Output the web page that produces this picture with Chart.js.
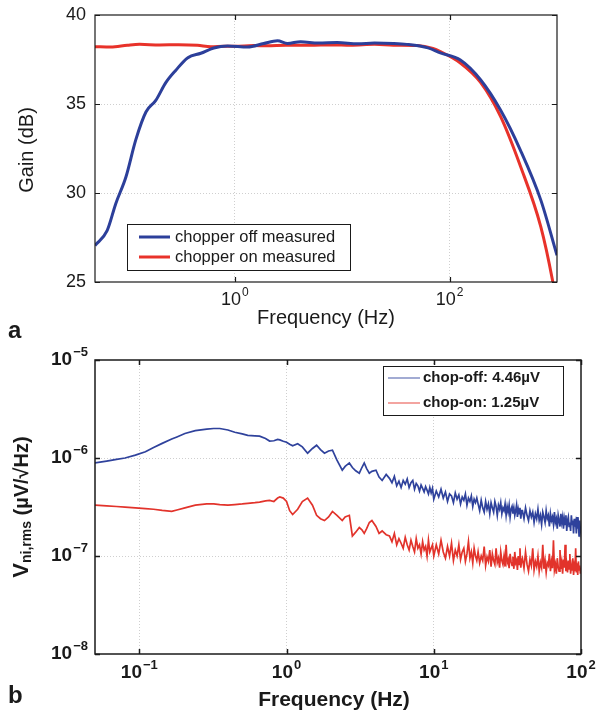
<!DOCTYPE html>
<html>
<head>
<meta charset="utf-8">
<script src="https://cdn.jsdelivr.net/npm/chart.js@4.4.1/dist/chart.umd.min.js"></script>
<style>
  body { margin: 0; background: #fff; width: 601px; height: 717px; position: relative; overflow: hidden; }
  canvas { position: absolute; left: 0; }
  #gainChart { top: 0; }
  #noiseChart { top: 340px; }
  .panel { position: absolute; left: 8px; font: bold 24px 'Liberation Sans', Arial, sans-serif; line-height: 24px; color: #1a1a1a; }
</style>
</head>
<body>
<canvas id="gainChart" width="601" height="340"></canvas>
<canvas id="noiseChart" width="601" height="377"></canvas>
<div class="panel" style="top:318px">a</div>
<div class="panel" style="top:683px">b</div>
<script>
// ---- (a) gain vs frequency ----
const offFreq = [0.05, 0.065, 0.078, 0.097, 0.12, 0.149, 0.184, 0.228, 0.283, 0.366,
                 0.483, 0.638, 0.86, 1.32, 1.86, 2.5, 3.1, 4.1, 6, 9,
                 14, 20, 30, 40, 63, 82, 126, 195, 298, 457,
                 707, 1000];
const offGain = [27.05, 27.9, 29.4, 30.9, 33.0, 34.55, 35.2, 36.2, 36.9, 37.6,
                 37.85, 38.15, 38.26, 38.2, 38.4, 38.55, 38.4, 38.5, 38.42, 38.45,
                 38.38, 38.42, 38.4, 38.35, 38.15, 37.87, 37.47, 36.35, 34.66, 32.4,
                 29.6, 26.5];
const onFreq = [0.05, 0.07, 0.1, 0.13, 0.2, 0.3, 0.45, 0.6, 0.8, 1,
                1.5, 2, 3, 5, 8, 12, 20, 30, 50, 70,
                82, 126, 195, 298, 457, 707, 908, 1000];
const onGain = [38.22, 38.2, 38.3, 38.35, 38.32, 38.33, 38.3, 38.22, 38.25, 38.25,
                38.28, 38.27, 38.3, 38.3, 38.32, 38.3, 38.35, 38.3, 38.28, 38.12,
                37.95, 37.3, 36.2, 34.3, 31.5, 28.1, 25.1, 23.6];
const gainLabels = ['chopper off measured', 'chopper on measured'];
const gainXTicks = [1, 100];
const gainXExps = ['0', '2'];
const gainYTicks = [25, 30, 35, 40];

// ---- (b) input referred noise ----
const noiseFreq = [0.05, 0.06, 0.07, 0.08, 0.094, 0.11, 0.125, 0.143, 0.166, 0.18,
  0.204, 0.24, 0.287, 0.32, 0.352, 0.40, 0.445, 0.5, 0.545, 0.61,
  0.656, 0.72, 0.767, 0.82, 0.87, 0.9, 0.95, 1.0, 1.05, 1.1,
  1.19, 1.28, 1.39, 1.5, 1.6, 1.7, 1.81, 1.93, 2.05, 2.2,
  2.39, 2.5, 2.67, 2.8, 2.95, 3.12, 3.25, 3.37, 3.5, 3.65,
  3.8, 4.05, 4.25, 4.46, 4.75,
  5.0, 5.2, 5.4, 5.6, 5.8, 6.0, 6.2, 6.4, 6.6, 6.8, 7.0, 7.2, 7.4, 7.6, 7.8, 8.0, 8.2, 8.4, 8.6, 8.8, 9.0, 9.2, 9.4, 9.6, 9.8,
  10, 10.4, 10.8, 11.2, 11.6, 12, 12.4, 12.8, 13.2, 13.6, 14, 14.4, 14.8, 15.2, 15.6, 16, 16.4, 16.8, 17.2, 17.6, 18, 18.4, 18.8, 19.2, 19.6,
  20, 20.5, 21, 21.5, 22, 22.5, 23, 23.5, 24, 24.5, 25, 25.5, 26, 26.5, 27, 27.5, 28, 28.5, 29, 29.5,
  30, 30.5, 31, 31.5, 32, 32.5, 33, 33.5, 34, 34.5, 35, 35.5, 36, 36.5, 37, 37.5, 38, 38.5, 39, 39.5,
  40, 41, 42, 43, 44, 45, 46, 47, 48, 49, 50, 51, 52, 53, 54, 55, 56, 57, 58, 59,
  60, 61, 62, 63, 64, 65, 66, 67, 68, 69, 70, 71, 72, 73, 74, 75, 76, 77, 78, 79,
  80, 81, 82, 83, 84, 85, 86, 87, 88, 89, 90, 91, 92, 93, 94, 95, 96, 97, 98, 99, 100];
const chopOff = [8.9e-7, 9.3e-7, 9.7e-7, 10.0e-7, 10.7e-7, 11.6e-7, 12.8e-7, 14.1e-7, 15.6e-7, 16.4e-7,
  17.8e-7, 19.0e-7, 19.7e-7, 20.0e-7, 20.0e-7, 19.3e-7, 18.3e-7, 17.6e-7, 17.0e-7, 16.8e-7,
  16.7e-7, 15.8e-7, 14.9e-7, 15.0e-7, 15.5e-7, 15.3e-7, 14.8e-7, 14.5e-7, 13.8e-7, 13.3e-7,
  14.0e-7, 13.0e-7, 11.2e-7, 12.5e-7, 13.5e-7, 12.2e-7, 11.2e-7, 11.8e-7, 12.0e-7, 9.5e-7,
  7.5e-7, 8.2e-7, 8.9e-7, 8.0e-7, 7.4e-7, 7.0e-7, 8.0e-7, 8.9e-7, 7.8e-7, 7.0e-7,
  7.3e-7, 7.5e-7, 6.4e-7, 5.9e-7, 6.8e-7,
  6.2e-7, 5.6e-7, 6.5e-7, 5.2e-7, 5.8e-7, 5.0e-7, 5.9e-7, 5.4e-7, 6.1e-7, 5.0e-7, 5.6e-7, 5.9e-7, 4.8e-7, 5.5e-7, 5.2e-7, 4.6e-7, 5.3e-7, 4.9e-7, 4.5e-7, 5.1e-7, 4.7e-7, 4.3e-7, 5.0e-7, 4.4e-7, 4.9e-7,
  3.8e-7, 4.6e-7, 4.0e-7, 4.8e-7, 3.9e-7, 4.5e-7, 3.6e-7, 4.3e-7, 4.1e-7, 3.5e-7, 4.4e-7, 3.8e-7, 4.2e-7, 3.4e-7, 4.0e-7, 3.7e-7, 4.3e-7, 3.3e-7, 3.9e-7, 3.6e-7, 4.1e-7, 3.2e-7, 3.8e-7, 3.5e-7, 3.9e-7,
  3.4e-7, 2.9e-7, 3.7e-7, 3.1e-7, 2.8e-7, 3.6e-7, 3.0e-7, 3.4e-7, 2.7e-7, 3.5e-7, 3.1e-7, 2.8e-7, 3.6e-7, 3.2e-7, 2.6e-7, 3.3e-7, 3.0e-7, 3.5e-7, 2.7e-7, 3.1e-7,
  2.9e-7, 3.4e-7, 2.6e-7, 3.2e-7, 2.8e-7, 3.3e-7, 2.5e-7, 3.0e-7, 3.2e-7, 2.7e-7, 3.1e-7, 2.6e-7, 2.9e-7, 3.3e-7, 2.5e-7, 3.0e-7, 2.7e-7, 3.1e-7, 2.4e-7, 2.9e-7,
  2.9e-7, 2.4e-7, 3.1e-7, 2.6e-7, 2.3e-7, 2.9e-7, 2.5e-7, 2.8e-7, 2.2e-7, 2.7e-7, 2.4e-7, 3.0e-7, 2.3e-7, 2.6e-7, 2.1e-7, 2.8e-7, 2.5e-7, 2.2e-7, 2.9e-7, 2.4e-7,
  2.6e-7, 2.0e-7, 2.7e-7, 2.3e-7, 2.5e-7, 2.1e-7, 2.8e-7, 2.2e-7, 2.4e-7, 1.9e-7, 2.6e-7, 2.3e-7, 2.0e-7, 2.7e-7, 2.2e-7, 2.5e-7, 1.9e-7, 2.4e-7, 2.1e-7, 2.6e-7,
  1.8e-7, 2.3e-7, 2.5e-7, 2.0e-7, 2.2e-7, 1.8e-7, 2.6e-7, 2.1e-7, 2.3e-7, 1.7e-7, 2.4e-7, 2.0e-7, 2.2e-7, 1.7e-7, 2.5e-7, 1.9e-7, 2.1e-7, 1.6e-7, 2.3e-7, 1.8e-7, 2.0e-7];
const chopOn = [3.3e-7, 3.25e-7, 3.2e-7, 3.15e-7, 3.1e-7, 3.05e-7, 3.0e-7, 2.92e-7, 2.85e-7, 2.95e-7,
  3.1e-7, 3.3e-7, 3.4e-7, 3.4e-7, 3.35e-7, 3.3e-7, 3.35e-7, 3.4e-7, 3.45e-7, 3.5e-7,
  3.55e-7, 3.65e-7, 3.7e-7, 3.6e-7, 3.9e-7, 4.0e-7, 3.9e-7, 3.6e-7, 2.9e-7, 2.65e-7,
  3.0e-7, 3.6e-7, 3.9e-7, 3.3e-7, 2.6e-7, 2.4e-7, 2.3e-7, 2.5e-7, 2.85e-7, 2.6e-7,
  2.3e-7, 2.5e-7, 2.6e-7, 1.6e-7, 1.75e-7, 1.95e-7, 1.85e-7, 1.7e-7, 1.9e-7, 2.2e-7,
  2.3e-7, 2.0e-7, 1.7e-7, 1.8e-7, 1.65e-7,
  1.6e-7, 1.4e-7, 1.7e-7, 1.3e-7, 1.5e-7, 1.35e-7, 1.2e-7, 1.55e-7, 1.3e-7, 1.15e-7, 1.45e-7, 1.25e-7, 1.1e-7, 1.5e-7, 1.2e-7, 1.3e-7, 1.05e-7, 1.4e-7, 1.15e-7, 1.25e-7, 1.0e-7, 1.45e-7, 1.1e-7, 1.2e-7, 1.3e-7,
  1.0e-7, 1.3e-7, 1.05e-7, 1.45e-7, 1.1e-7, 0.95e-7, 1.25e-7, 1.0e-7, 1.35e-7, 0.9e-7, 1.15e-7, 1.0e-7, 1.3e-7, 0.92e-7, 1.1e-7, 1.2e-7, 0.88e-7, 1.05e-7, 1.4e-7, 0.95e-7, 1.1e-7, 0.85e-7, 1.2e-7, 1.0e-7, 0.9e-7,
  1.1e-7, 0.85e-7, 1.0e-7, 0.9e-7, 1.25e-7, 0.8e-7, 0.98e-7, 0.88e-7, 1.15e-7, 0.78e-7, 1.05e-7, 0.9e-7, 0.82e-7, 1.2e-7, 0.86e-7, 0.95e-7, 0.76e-7, 1.1e-7, 0.9e-7, 0.82e-7,
  1.0e-7, 0.78e-7, 1.3e-7, 0.85e-7, 0.92e-7, 0.75e-7, 1.05e-7, 0.88e-7, 0.8e-7, 0.98e-7, 0.74e-7, 1.1e-7, 0.85e-7, 0.9e-7, 0.72e-7, 1.0e-7, 0.82e-7, 1.2e-7, 0.76e-7, 0.9e-7,
  0.95e-7, 0.75e-7, 1.1e-7, 0.82e-7, 0.7e-7, 0.92e-7, 0.8e-7, 1.2e-7, 0.72e-7, 0.88e-7, 0.78e-7, 1.0e-7, 0.7e-7, 0.86e-7, 0.76e-7, 1.3e-7, 0.74e-7, 0.9e-7, 0.68e-7, 0.85e-7,
  0.8e-7, 1.05e-7, 0.7e-7, 0.88e-7, 0.75e-7, 1.45e-7, 0.72e-7, 0.82e-7, 0.66e-7, 0.95e-7, 0.78e-7, 0.7e-7, 1.15e-7, 0.74e-7, 0.86e-7, 0.66e-7, 0.92e-7, 0.76e-7, 1.3e-7, 0.7e-7,
  0.82e-7, 0.68e-7, 0.9e-7, 0.74e-7, 1.05e-7, 0.66e-7, 0.8e-7, 0.72e-7, 0.95e-7, 0.64e-7, 0.78e-7, 0.7e-7, 1.2e-7, 0.68e-7, 0.84e-7, 0.64e-7, 0.88e-7, 0.72e-7, 0.8e-7, 0.66e-7, 0.76e-7];
const noiseLabels = ['chop-off: 4.46\u00b5V', 'chop-on: 1.25\u00b5V'];
const noiseXTicks = [0.1, 1, 10, 100];
const noiseXExps = ['\u22121', '0', '1', '2'];
const noiseYTicks = [1e-8, 1e-7, 1e-6, 1e-5];
const noiseYExps = ['\u22128', '\u22127', '\u22126', '\u22125'];

const FONT = "'Liberation Sans', Arial, Helvetica, sans-serif";
const INK = '#1a1a1a';
function font(size, bold) { return (bold ? 'bold ' : '') + size + 'px ' + FONT; }

// "10" with a raised exponent
function drawPower(ctx, x, y, exp, size, bold, align) {
  const es = Math.round(size * 0.68);
  ctx.font = font(size, bold);
  const wb = ctx.measureText('10').width;
  ctx.font = font(es, bold);
  const we = ctx.measureText(exp).width;
  const x0 = align === 'right' ? x - wb - we - 1 : x - (wb + we + 1) / 2;
  ctx.textAlign = 'left';
  ctx.textBaseline = 'middle';
  ctx.font = font(size, bold);
  ctx.fillText('10', x0, y);
  ctx.font = font(es, bold);
  ctx.fillText(exp, x0 + wb + 1, y - size * 0.42);
}

// text run turned 90 degrees, centred on cx,cy
function drawRotated(ctx, cx, cy, parts) {
  ctx.save();
  ctx.translate(cx, cy);
  ctx.rotate(-Math.PI / 2);
  let total = 0;
  parts.forEach(p => { ctx.font = font(p.size, p.bold); p.w = ctx.measureText(p.t).width; total += p.w; });
  let x = -total / 2;
  ctx.textAlign = 'left';
  ctx.textBaseline = 'middle';
  parts.forEach(p => { ctx.font = font(p.size, p.bold); ctx.fillText(p.t, x, p.dy || 0); x += p.w; });
  ctx.restore();
}

// matlab style box with inward ticks on every side
function drawFrame(chart, xTicks, yTicks, lw) {
  const { ctx, chartArea: a, scales } = chart;
  ctx.save();
  ctx.strokeStyle = INK;
  ctx.lineWidth = lw;
  ctx.strokeRect(a.left, a.top, a.right - a.left, a.bottom - a.top);
  ctx.beginPath();
  xTicks.forEach(v => {
    const px = Math.round(scales.x.getPixelForValue(v)) + 0.5;
    ctx.moveTo(px, a.bottom); ctx.lineTo(px, a.bottom - 5);
    ctx.moveTo(px, a.top); ctx.lineTo(px, a.top + 5);
  });
  yTicks.forEach(v => {
    const py = Math.round(scales.y.getPixelForValue(v)) + 0.5;
    ctx.moveTo(a.left, py); ctx.lineTo(a.left + 5, py);
    ctx.moveTo(a.right, py); ctx.lineTo(a.right - 5, py);
  });
  ctx.stroke();
  ctx.restore();
}

function drawLegend(chart, box, lineW, size, bold, alpha) {
  const ctx = chart.ctx;
  ctx.save();
  ctx.fillStyle = '#fff';
  ctx.fillRect(box.x, box.y, box.w, box.h);
  ctx.strokeStyle = INK;
  ctx.lineWidth = 1;
  ctx.strokeRect(box.x + 0.5, box.y + 0.5, box.w, box.h);
  chart.data.datasets.forEach((ds, i) => {
    const y = box.rows[i];
    ctx.globalAlpha = alpha;
    ctx.strokeStyle = ds.borderColor;
    ctx.lineWidth = lineW;
    ctx.beginPath();
    ctx.moveTo(box.lx0, y); ctx.lineTo(box.lx1, y);
    ctx.stroke();
    ctx.globalAlpha = 1;
    ctx.fillStyle = INK;
    ctx.font = font(size, bold);
    ctx.textAlign = 'left';
    ctx.textBaseline = 'middle';
    ctx.fillText(ds.label, box.tx, y);
  });
  ctx.restore();
}

const gainDecor = {
  id: 'gainDecor',
  afterDraw(chart) {
    const { ctx, scales, chartArea: a } = chart;
    drawFrame(chart, gainXTicks, gainYTicks, 1.2);
    ctx.save();
    ctx.fillStyle = INK;
    ctx.font = font(18, false);
    ctx.textAlign = 'right';
    ctx.textBaseline = 'middle';
    gainYTicks.forEach(v => ctx.fillText(String(v), 86, scales.y.getPixelForValue(v)));
    gainXTicks.forEach((v, i) => drawPower(ctx, scales.x.getPixelForValue(v), 300, gainXExps[i], 18, false, 'center'));
    ctx.font = font(20, false);
    ctx.textAlign = 'center';
    ctx.fillText('Frequency (Hz)', (a.left + a.right) / 2, 318);
    drawRotated(ctx, 27, 150, [{ t: 'Gain (dB)', size: 20, bold: false }]);
    ctx.restore();
    drawLegend(chart, { x: 127, y: 224, w: 223, h: 46, rows: [237, 257], lx0: 139, lx1: 170, tx: 175 }, 3, 16.5, false, 1);
  }
};

const noiseDecor = {
  id: 'noiseDecor',
  afterDraw(chart) {
    const { ctx, scales } = chart;
    drawFrame(chart, noiseXTicks, noiseYTicks, 1.5);
    ctx.save();
    ctx.fillStyle = INK;
    noiseYTicks.forEach((v, i) => drawPower(ctx, 88, scales.y.getPixelForValue(v), noiseYExps[i], 19, true, 'right'));
    noiseXTicks.forEach((v, i) => drawPower(ctx, scales.x.getPixelForValue(v), 333, noiseXExps[i], 19, true, 'center'));
    ctx.font = font(21, true);
    ctx.textAlign = 'center';
    ctx.textBaseline = 'middle';
    ctx.fillText('Frequency (Hz)', 334, 360);
    drawRotated(ctx, 22, 167, [
      { t: 'V', size: 22, bold: true },
      { t: 'ni,rms', size: 14, bold: true, dy: 5 },
      { t: ' (\u00b5V/\u221aHz)', size: 20, bold: true }
    ]);
    ctx.restore();
    drawLegend(chart, { x: 383, y: 26, w: 180, h: 49, rows: [38, 63], lx0: 388, lx1: 420, tx: 423 }, 1.5, 15, true, 0.6);
  }
};

function gridTicks(values) {
  return scale => { scale.ticks = values.map(v => ({ value: v })); };
}

const baseGrid = { color: '#cfcfcf', lineWidth: 1, drawTicks: false };
const baseBorder = { display: false, dash: [1, 2] };

new Chart(document.getElementById('gainChart'), {
  type: 'line',
  data: {
    datasets: [
      { label: gainLabels[0], data: offFreq.map((f, i) => ({ x: f, y: offGain[i] })), borderColor: '#2c3f9a', borderWidth: 3 },
      { label: gainLabels[1], data: onFreq.map((f, i) => ({ x: f, y: onGain[i] })), borderColor: '#e8322a', borderWidth: 3 }
    ]
  },
  options: {
    responsive: false,
    animation: false,
    events: [],
    elements: { point: { radius: 0 }, line: { cubicInterpolationMode: 'monotone' } },
    layout: { padding: { left: 95, right: 44, top: 15, bottom: 58 } },
    plugins: { legend: { display: false }, tooltip: { enabled: false } },
    scales: {
      x: {
        type: 'logarithmic', min: 0.05, max: 1000,
        ticks: { display: false }, grid: baseGrid, border: baseBorder,
        afterBuildTicks: gridTicks([1, 100]),
        afterFit: s => { s.height = 0; }
      },
      y: {
        type: 'linear', min: 25, max: 40,
        ticks: { display: false }, grid: baseGrid, border: baseBorder,
        afterBuildTicks: gridTicks([30, 35]),
        afterFit: s => { s.width = 0; }
      }
    }
  },
  plugins: [gainDecor]
});

new Chart(document.getElementById('noiseChart'), {
  type: 'line',
  data: {
    datasets: [
      { label: noiseLabels[0], data: noiseFreq.map((f, i) => ({ x: f, y: chopOff[i] })), borderColor: '#2f429c', borderWidth: 1.7 },
      { label: noiseLabels[1], data: noiseFreq.map((f, i) => ({ x: f, y: chopOn[i] })), borderColor: '#e2332b', borderWidth: 1.7 }
    ]
  },
  options: {
    responsive: false,
    animation: false,
    events: [],
    elements: { point: { radius: 0 }, line: { tension: 0 } },
    layout: { padding: { left: 95, right: 20, top: 20, bottom: 63 } },
    plugins: { legend: { display: false }, tooltip: { enabled: false } },
    scales: {
      x: {
        type: 'logarithmic', min: 0.05, max: 100,
        ticks: { display: false }, grid: baseGrid, border: baseBorder,
        afterBuildTicks: gridTicks([0.1, 1, 10]),
        afterFit: s => { s.height = 0; }
      },
      y: {
        type: 'logarithmic', min: 1e-8, max: 1e-5,
        ticks: { display: false }, grid: baseGrid, border: baseBorder,
        afterBuildTicks: gridTicks([1e-7, 1e-6]),
        afterFit: s => { s.width = 0; }
      }
    }
  },
  plugins: [noiseDecor]
});
</script>
</body>
</html>
